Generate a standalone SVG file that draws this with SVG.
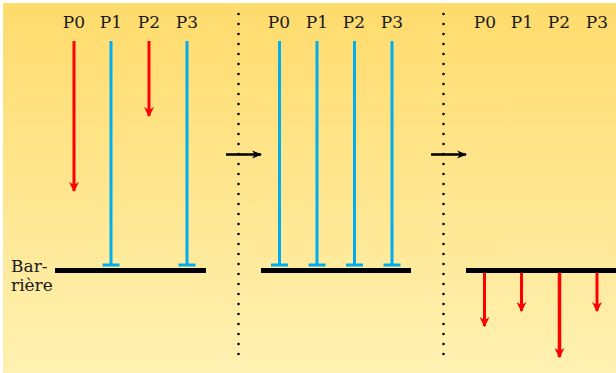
<svg xmlns="http://www.w3.org/2000/svg" width="616" height="373" viewBox="0 0 616 373">
<defs>
<linearGradient id="bg" x1="0" y1="0" x2="0" y2="1">
<stop offset="0" stop-color="#FEDB6C"/>
<stop offset="1" stop-color="#FFF1B2"/>
</linearGradient>
<marker id="ar" viewBox="0 0 10 10" refX="9" refY="5" markerUnits="userSpaceOnUse" markerWidth="10" markerHeight="10" orient="auto">
<path d="M0,0 L10,5 L0,10 L3,5 Z" fill="#FF0000"/>
</marker>
<marker id="ak" viewBox="0 0 10 10" refX="9" refY="5" markerUnits="userSpaceOnUse" markerWidth="10" markerHeight="10" orient="auto">
<path d="M0,1 L10,5 L0,9 L3,5 Z" fill="#000"/>
</marker>
<style>
.red{stroke:#FF0000;stroke-width:3;fill:none;marker-end:url(#ar)}
.blue{stroke:#00AEEF;stroke-width:3;fill:none}
.bar{stroke:#000;stroke-width:5}
.dots{stroke:#000;stroke-width:2.6;stroke-linecap:round;stroke-dasharray:0 10}
.blk{stroke:#000;stroke-width:2.5;marker-end:url(#ak)}
.t{font-family:"DejaVu Serif",serif;fill:#1a1a1a}
</style>
</defs>
<rect x="3" y="3" width="613" height="370" fill="url(#bg)"/>

<g id="labels" class="t" font-size="17" text-anchor="middle">
<text x="74" y="28">P0</text>
<text x="111" y="28">P1</text>
<text x="149" y="28">P2</text>
<text x="187" y="28">P3</text>
<text x="279" y="28">P0</text>
<text x="317" y="28">P1</text>
<text x="354" y="28">P2</text>
<text x="392" y="28">P3</text>
<text x="485" y="28">P0</text>
<text x="522" y="28">P1</text>
<text x="559" y="28">P2</text>
<text x="597" y="28">P3</text>
</g>

<g id="barrier-label" class="t" font-size="17">
<text x="11" y="272">Bar-</text>
<text x="11" y="291">rière</text>
</g>

<g id="panel1">
<line class="bar" x1="55" y1="270.5" x2="206" y2="270.5"/>
<line class="red" x1="74" y1="41" x2="74" y2="191"/>
<line class="red" x1="149" y1="41" x2="149" y2="116"/>
<path class="blue" d="M111,41 V265 M102.5,265 H119.5"/>
<path class="blue" d="M187,41 V265 M178.5,265 H195.5"/>
</g>

<g id="panel2">
<line class="bar" x1="261" y1="270.5" x2="411" y2="270.5"/>
<path class="blue" d="M279.5,41 V265 M271,265 H288"/>
<path class="blue" d="M317,41 V265 M308.5,265 H325.5"/>
<path class="blue" d="M354.5,41 V265 M346,265 H363"/>
<path class="blue" d="M392,41 V265 M383.5,265 H400.5"/>
</g>

<g id="panel3">
<line class="bar" x1="466" y1="270.5" x2="616" y2="270.5"/>
<line class="red" x1="484.5" y1="273" x2="484.5" y2="326"/>
<line class="red" x1="521.5" y1="273" x2="521.5" y2="311"/>
<line class="red" x1="559.5" y1="273" x2="559.5" y2="357" style="stroke-width:3.5"/>
<line class="red" x1="597" y1="273" x2="597" y2="311"/>
</g>

<g id="connectors">
<line class="dots" x1="238.5" y1="14" x2="238.5" y2="355"/>
<line class="dots" x1="443.5" y1="14" x2="443.5" y2="355"/>
<line class="blk" x1="226" y1="154.5" x2="261" y2="154.5"/>
<line class="blk" x1="431" y1="154.5" x2="466" y2="154.5"/>
</g>
</svg>
